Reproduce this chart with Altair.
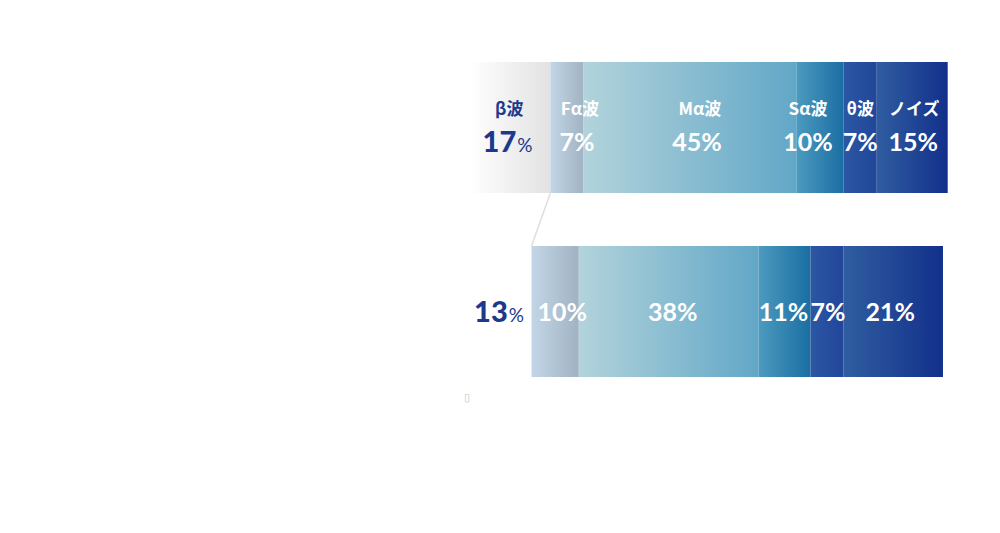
import altair as alt
import pandas as pd

segments = ["β波", "Fα波", "Mα波", "Sα波", "θ波", "ノイズ"]
top_values = [17, 7, 45, 10, 7, 15]
bottom_values = [13, 10, 38, 11, 7, 21]
rows = ["top", "bottom"]

# gradient colour stops per segment (left -> right)
grad_colors = [
    ("#ffffff", "#e2e2e2"),
    ("#c3d6e7", "#a1b3c2"),
    ("#b2d3db", "#62a7c7"),
    ("#4c9abf", "#1a6ea2"),
    ("#2b57a3", "#21469a"),
    ("#305da0", "#12308b"),
]
name_dx = [-1, 13, 10, -12, 0, 2]
top_pct_dx = [0, 10, 7, -12, 0, 1]
bottom_pct_dx = [0, 7, 4, -1, 1, -3]
NAVY = "#1b3a8e"


def build(row, values):
    recs, c = [], 0
    for i, (s, v) in enumerate(zip(segments, values)):
        recs.append(dict(row=row, seg=s, idx=i, value=v, start=c, end=c + v,
                         mid=c + v / 2, pct=f"{v}%", num=str(v)))
        c += v
    return recs


df = pd.DataFrame(build("top", top_values) + build("bottom", bottom_values))

xs = alt.Scale(domain=[0, 101], range=[462, 939.7])
ys = alt.Scale(domain=rows, range=[54, 369], paddingInner=0.288, paddingOuter=0)
X = lambda f: alt.X(f, type="quantitative", scale=xs, axis=None)
Y = alt.Y("row:N", scale=ys, axis=None)

base = alt.Chart(df)
layers = []
for i, seg in enumerate(segments):
    c0, c1 = grad_colors[i]
    grad = alt.Gradient(gradient="linear",
                        stops=[alt.GradientStop(offset=0, color=c0),
                               alt.GradientStop(offset=1, color=c1)],
                        x1=0, x2=1, y1=0, y2=0)
    d = base.transform_filter(alt.datum.idx == i)
    if i == 0:
        d = d.transform_filter(alt.datum.row == "top")
    layers.append(d.mark_bar(fill=grad, strokeWidth=0).encode(
        x=X("start"), x2="end", y=Y))

# connector line
conn = pd.DataFrame({"a": [top_values[0]], "b": [bottom_values[0]]})
layers.append(alt.Chart(conn).mark_rule(color="#e0ded8", strokeWidth=1.5).encode(
    x=X("a"), x2="b", y=alt.value(185), y2=alt.value(238)))

font_jp = "Noto Sans CJK JP"
font_num = "Lato"

for i, seg in enumerate(segments):
    col = NAVY if i == 0 else "white"
    t = base.transform_filter((alt.datum.idx == i) & (alt.datum.row == "top"))
    layers.append(t.mark_text(font=font_jp, fontSize=17, fontWeight="bold", color=col,
                              dx=name_dx[i], dy=-18, baseline="middle").encode(
        x=X("mid"), y=Y, text="seg:N"))
    if i == 0:
        for r, dyv, dxn in [("top", 15, 6), ("bottom", 1.5, 7)]:
            tb = base.transform_filter((alt.datum.idx == 0) & (alt.datum.row == r))
            layers.append(tb.mark_text(font=font_num, fontSize=29, fontWeight=900, color=NAVY,
                                       align="right", dx=dxn, dy=dyv, baseline="middle").encode(
                x=X("mid"), y=Y, text="num:N"))
            layers.append(tb.mark_text(font=font_num, fontSize=19, fontWeight="normal", color=NAVY,
                                       align="left", dx=dxn + 1, dy=dyv + 3, baseline="middle").encode(
                x=X("mid"), y=Y, text=alt.value("%")))
    else:
        layers.append(t.mark_text(font=font_num, fontSize=25, fontWeight="bold", color="white",
                                  dx=top_pct_dx[i], dy=15, baseline="middle").encode(
            x=X("mid"), y=Y, text="pct:N"))
        b = base.transform_filter((alt.datum.idx == i) & (alt.datum.row == "bottom"))
        layers.append(b.mark_text(font=font_num, fontSize=25, fontWeight="bold", color="white",
                                  dx=bottom_pct_dx[i], dy=1.5, baseline="middle").encode(
            x=X("mid"), y=Y, text="pct:N"))

# tiny marker below the bars
mk = pd.DataFrame({"a": [0], "row": ["bottom"]})
layers.append(alt.Chart(mk).mark_text(text="▯", fontSize=11, color="#c8c8c8",
                                      dx=-3, dy=87, baseline="middle").encode(
    x=X("a"), y=Y))

chart = alt.layer(*layers).properties(
    width=984, height=517, padding=0, autosize="none", background="white"
).configure_view(stroke=None, strokeWidth=0)

chart.save("out.html", embed_options={"renderer": "svg", "actions": False})
